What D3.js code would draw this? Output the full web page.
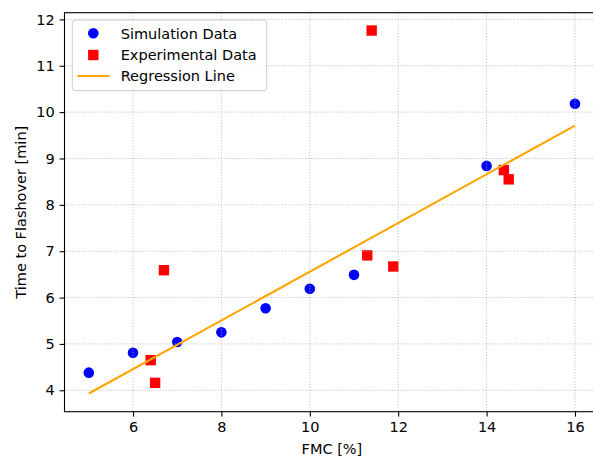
<!DOCTYPE html>
<html>
<head>
<meta charset="utf-8">
<script src="https://cdn.jsdelivr.net/npm/d3@7"></script>
<style>
  html, body { margin: 0; padding: 0; background: #fff; }
  svg { display: block; font-family: "DejaVu Sans", sans-serif; }
</style>
</head>
<body>
<svg id="chart" width="593" height="457"></svg>
<script>
// ---- data ----
const simX = [5, 6, 7, 8, 9, 10, 11, 14, 16];
const simY = [4.38, 4.81, 5.04, 5.25, 5.77, 6.19, 6.49, 8.84, 10.18];
const expX = [6.40, 6.50, 6.70, 11.30, 11.40, 11.89, 14.39, 14.50];
const expY = [4.65, 4.16, 6.59, 6.91, 11.76, 6.67, 8.75, 8.55];
const regX = [5, 16];
const regY = [3.93, 9.71];
const xTicks = [6, 8, 10, 12, 14, 16];
const yTicks = [4, 5, 6, 7, 8, 9, 10, 11, 12];
const legendLabels = ["Simulation Data", "Experimental Data", "Regression Line"];

// ---- layout ----
const mLeft = 64.5, mRight = 599.3, mTop = 12.7, mBottom = 411.7;
const fontSize = 14.5;

const svg = d3.select("#chart");
const x = d3.scaleLinear().domain([4.45, 16.55]).range([mLeft, mRight]);
const y = d3.scaleLinear().domain([3.538, 12.1445]).range([mBottom, mTop]);

const plot = svg.append("g");

// scatter (below grid, as in matplotlib)
plot.append("g").selectAll("circle").data(simX.map((d, i) => [d, simY[i]]))
  .join("circle")
  .attr("cx", d => x(d[0])).attr("cy", d => y(d[1])).attr("r", 5.3)
  .attr("fill", "#0000ff");

const sq = 10.4;
plot.append("g").selectAll("rect").data(expX.map((d, i) => [d, expY[i]]))
  .join("rect")
  .attr("x", d => x(d[0]) - sq / 2).attr("y", d => y(d[1]) - sq / 2)
  .attr("width", sq).attr("height", sq)
  .attr("fill", "#ff0000");

// grid
const grid = plot.append("g").attr("stroke", "#b0b0b0").attr("stroke-width", 0.8)
  .attr("stroke-dasharray", "1.1,1.8");
grid.selectAll("line.gx").data(xTicks).join("line").attr("class", "gx")
  .attr("x1", d => x(d)).attr("x2", d => x(d)).attr("y1", mTop).attr("y2", mBottom);
grid.selectAll("line.gy").data(yTicks).join("line").attr("class", "gy")
  .attr("y1", d => y(d)).attr("y2", d => y(d)).attr("x1", mLeft).attr("x2", mRight);

// regression line
plot.append("path")
  .datum(regX.map((d, i) => [d, regY[i]]))
  .attr("d", d3.line().x(d => x(d[0])).y(d => y(d[1])))
  .attr("fill", "none").attr("stroke", "#ffa500").attr("stroke-width", 2.1);

// axes
const xAxis = d3.axisBottom(x).tickValues(xTicks).tickFormat(d3.format("d"))
  .tickSize(4.9).tickPadding(4.9);
const yAxis = d3.axisLeft(y).tickValues(yTicks).tickFormat(d3.format("d"))
  .tickSize(4.9).tickPadding(4.9);

const gx = svg.append("g").attr("transform", `translate(0,${mBottom})`).call(xAxis);
const gy = svg.append("g").attr("transform", `translate(${mLeft},0)`).call(yAxis);
[gx, gy].forEach(g => {
  g.select(".domain").remove();
  g.selectAll(".tick line").attr("stroke", "#000").attr("stroke-width", 1.1);
  g.selectAll(".tick text").attr("fill", "#000")
    .style("font-family", "DejaVu Sans, sans-serif").style("font-size", fontSize + "px");
});

// spines
svg.append("rect").attr("x", mLeft).attr("y", mTop)
  .attr("width", mRight - mLeft).attr("height", mBottom - mTop)
  .attr("fill", "none").attr("stroke", "#000").attr("stroke-width", 1.1);

// axis labels
svg.append("text").attr("x", (mLeft + mRight) / 2).attr("y", 454)
  .attr("text-anchor", "middle").style("font-size", fontSize + "px")
  .text("FMC [%]");
svg.append("text").attr("transform", `translate(26,${(mTop + mBottom) / 2}) rotate(-90)`)
  .attr("text-anchor", "middle").style("font-size", fontSize + "px")
  .text("Time to Flashover [min]");

// legend
const lg = svg.append("g");
lg.append("rect").attr("x", 72.3).attr("y", 20).attr("width", 194.4).attr("height", 70.7)
  .attr("rx", 3).attr("fill", "#fff").attr("fill-opacity", 0.8)
  .attr("stroke", "#cccccc").attr("stroke-width", 1);
const rowY = [33.3, 55, 76];
lg.append("circle").attr("cx", 93.3).attr("cy", rowY[0]).attr("r", 5.3).attr("fill", "#0000ff");
lg.append("rect").attr("x", 93.3 - sq / 2).attr("y", rowY[1] - sq / 2)
  .attr("width", sq).attr("height", sq).attr("fill", "#ff0000");
lg.append("line").attr("x1", 77.3).attr("x2", 109.3).attr("y1", rowY[2]).attr("y2", rowY[2])
  .attr("stroke", "#ffa500").attr("stroke-width", 2.1);
lg.selectAll("text.lt").data(legendLabels).join("text").attr("class", "lt")
  .attr("x", 120.7).attr("y", (d, i) => rowY[i] + 5.2)
  .style("font-size", fontSize + "px").text(d => d);
</script>
</body>
</html>
